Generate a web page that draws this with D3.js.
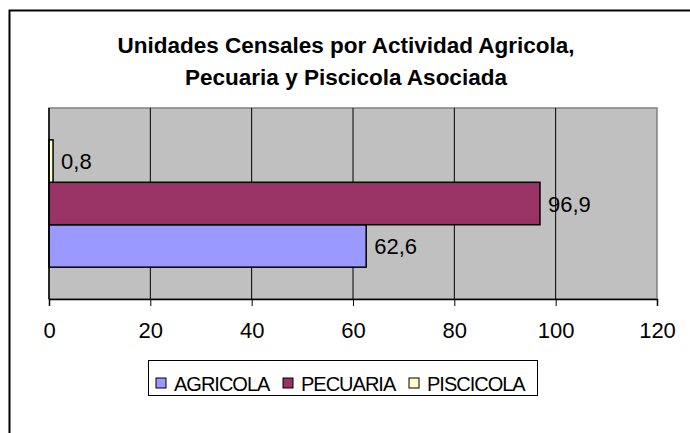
<!DOCTYPE html>
<html>
<head>
<meta charset="utf-8">
<script src="https://cdn.jsdelivr.net/npm/d3@7"></script>
<style>
  body { margin: 0; background: #fff; }
  svg { display: block; font-family: "Liberation Sans", Arial, sans-serif; }
</style>
</head>
<body>
<div id="chart"></div>
<script>
// Datos
var series = ["AGRICOLA", "PECUARIA", "PISCICOLA"];
var values = [62.6, 96.9, 0.8];
var labels = ["62,6", "96,9", "0,8"];
var colors = ["#9999FF", "#993366", "#FFFFCC"];
var ticks = [0, 20, 40, 60, 80, 100, 120];
var titleLines = ["Unidades Censales por Actividad Agricola,", "Pecuaria y Piscicola Asociada"];

var w = 690, h = 433;
var plot = {left: 49, right: 657, top: 108, bottom: 299};

var svg = d3.select("#chart").append("svg")
  .attr("width", w).attr("height", h);

// Borde del grafico (sale por derecha y abajo)
svg.append("rect")
  .attr("x", 9.5).attr("y", 10.5)
  .attr("width", 720).attr("height", 460)
  .attr("fill", "#fff")
  .attr("stroke", "#000").attr("stroke-width", 2);

// Titulo
svg.selectAll(".title")
  .data(titleLines)
  .enter().append("text")
  .attr("x", 346)
  .attr("y", function(d, i) { return 53 + i * 32; })
  .attr("text-anchor", "middle")
  .attr("font-size", "22.5px")
  .attr("font-weight", "bold")
  .text(function(d) { return d; });

// Escalas
var x = d3.scaleLinear().domain([0, 120]).range([plot.left, plot.right]);
var y = d3.scaleBand()
  .domain(series.slice().reverse())
  .range([plot.top, plot.bottom])
  .paddingInner(0).paddingOuter(0.75);

// Fondo del area
svg.append("rect")
  .attr("x", plot.left).attr("y", plot.top)
  .attr("width", plot.right - plot.left).attr("height", plot.bottom - plot.top)
  .attr("fill", "#C0C0C0")
  .attr("stroke", "#808080").attr("stroke-width", 1.5);

// Lineas de cuadricula
svg.selectAll(".grid")
  .data(ticks.slice(1, -1))
  .enter().append("line")
  .attr("x1", function(d) { return x(d); }).attr("x2", function(d) { return x(d); })
  .attr("y1", plot.top).attr("y2", plot.bottom)
  .attr("stroke", "#000").attr("stroke-width", 1);

// Barras
var data = series.map(function(s, i) { return {name: s, value: values[i], label: labels[i], color: colors[i]}; });

svg.selectAll(".bar")
  .data(data)
  .enter().append("rect")
  .attr("x", x(0))
  .attr("y", function(d) { return y(d.name); })
  .attr("width", function(d) { return x(d.value) - x(0); })
  .attr("height", y.bandwidth())
  .attr("fill", function(d) { return d.color; })
  .attr("stroke", "#000").attr("stroke-width", 1.5);

// Etiquetas de datos
svg.selectAll(".lbl")
  .data(data)
  .enter().append("text")
  .attr("x", function(d) { return x(d.value) + 8; })
  .attr("y", function(d) { return y(d.name) + y.bandwidth() / 2 + 8; })
  .attr("font-size", "22px")
  .text(function(d) { return d.label; });

// Eje x
var xAxis = d3.axisBottom(x).tickValues(ticks).tickSize(7).tickPadding(16);
var gx = svg.append("g")
  .attr("transform", "translate(0," + plot.bottom + ")")
  .call(xAxis);
gx.select(".domain").attr("stroke", "#000").attr("stroke-width", 1.5);
gx.selectAll(".tick line").attr("stroke", "#000");
gx.selectAll(".tick text")
  .attr("font-size", "22px")
  .attr("font-family", "Liberation Sans, Arial, sans-serif")
  .attr("fill", "#000");

// Eje y (linea)
svg.append("line")
  .attr("x1", plot.left).attr("x2", plot.left)
  .attr("y1", plot.top).attr("y2", plot.bottom)
  .attr("stroke", "#000").attr("stroke-width", 1.5);

// Leyenda
var legend = svg.append("g");
legend.append("rect")
  .attr("x", 148.5).attr("y", 360.5)
  .attr("width", 389).attr("height", 35)
  .attr("fill", "#fff").attr("stroke", "#000").attr("stroke-width", 1);

var legX = [156, 283, 409];
var item = legend.selectAll(".item")
  .data(data)
  .enter().append("g")
  .attr("transform", function(d, i) { return "translate(" + legX[i] + ",378)"; });
item.append("rect")
  .attr("width", 10).attr("height", 10)
  .attr("fill", function(d) { return d.color; })
  .attr("stroke", "#000").attr("stroke-width", 1);
item.append("text")
  .attr("x", 18).attr("y", 13)
  .attr("font-size", "20px")
  .attr("letter-spacing", "-1px")
  .text(function(d) { return d.name; });
</script>
</body>
</html>
